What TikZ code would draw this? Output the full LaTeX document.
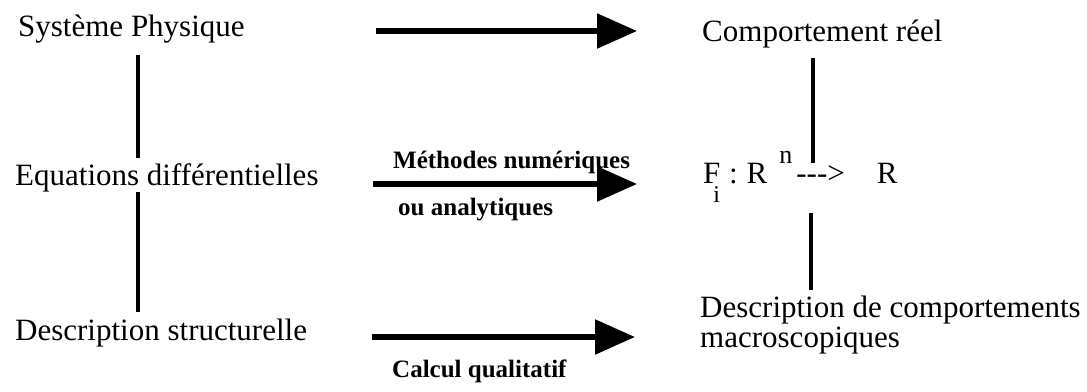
\documentclass[tikz,border=0pt]{standalone}
\usepackage{fontspec}
\setmainfont{Liberation Serif}
\usetikzlibrary{arrows.meta}
\begin{document}
\begin{tikzpicture}[x=1pt,y=-1pt,
  txt/.style={inner sep=0pt, anchor=base west, font=\fontsize{31}{31}\selectfont},
  lbl/.style={inner sep=0pt, anchor=base west, font=\bfseries\fontsize{25}{25}\selectfont},
  bigarrow/.style={line width=5.5pt, -{Triangle[length=40pt,width=34pt]}},
  vline/.style={line width=4pt}]
\useasboundingbox (0,0) rectangle (1087,391);
% left column
\node[txt] (sys) at (18,36) {Système Physique};
\node[txt] (eq) at (15,185) {Equations différentielles};
\node[txt] (ds) at (15,340) {Description structurelle};
% right column
\node[txt] (cr) at (702,41) {Comportement réel};
\node[txt] (fi) at (703,183) {F\kern-7pt\raisebox{-19pt}{\fontsize{24}{24}\selectfont i}\kern 9pt:\kern 9pt R\kern 12pt\raisebox{20pt}{\fontsize{26}{26}\selectfont n}\kern 4pt-{}-{}-{}>\kern 32pt R};
\node[txt, align=left, anchor=base west] (dc) at (700,347) {Description de comportements\\[-1pt]macroscopiques};
% labels
\node[lbl] (l1) at (393,168) {Méthodes numériques};
\node[lbl] (l2) at (398,215) {ou analytiques};
\node[lbl] (l3) at (392,377) {Calcul qualitatif};
% arrow ends
\coordinate (a1s) at (376,31);  \coordinate (a1e) at (637,31);
\coordinate (a2s) at (373,184); \coordinate (a2e) at (637,184);
\coordinate (a3s) at (372,337); \coordinate (a3e) at (635,337);
\draw[bigarrow] (a1s) -- (a1e);
\draw[bigarrow] (a2s) -- (a2e);
\draw[bigarrow] (a3s) -- (a3e);
% vertical lines
\coordinate (v1a) at (138,55);  \coordinate (v1b) at (138,158);
\coordinate (v2a) at (138,192); \coordinate (v2b) at (138,312);
\coordinate (v3a) at (813,58);  \coordinate (v3b) at (813,163);
\coordinate (v4a) at (811,213); \coordinate (v4b) at (811,290);
\draw[vline] (v1a) -- (v1b);
\draw[vline] (v2a) -- (v2b);
\draw[vline] (v3a) -- (v3b);
\draw[vline] (v4a) -- (v4b);
\end{tikzpicture}
\end{document}
